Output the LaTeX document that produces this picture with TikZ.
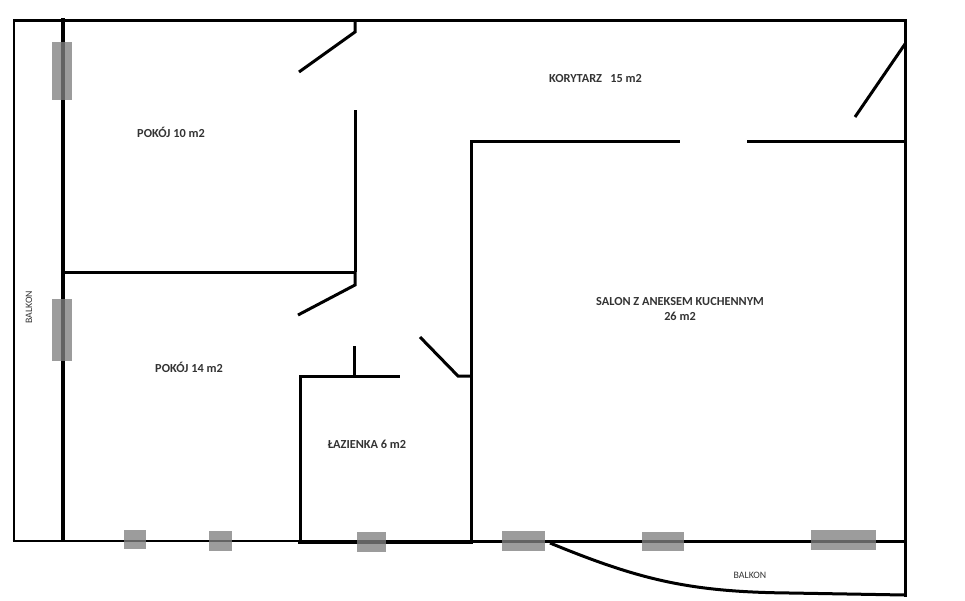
\documentclass[tikz,border=0pt]{standalone}
\usepackage{fontspec}
\setmainfont{Carlito}
\usepackage{xcolor}
\definecolor{labelgray}{HTML}{333333}
\definecolor{windowgray}{HTML}{808080}
\begin{document}
\begin{tikzpicture}[
    x=0.02cm, y=-0.02cm,
    wall/.style={draw=black, line width=0.06cm, line join=miter},
    thinwall/.style={draw=black, line width=0.05cm},
    thickwall/.style={draw=black, line width=0.085cm},
    window/.style={fill=windowgray, fill opacity=0.78, draw=none},
    room/.style={font=\fontsize{7pt}{8.9pt}\selectfont\bfseries, text=labelgray, align=center, inner sep=0pt},
    balcony/.style={font=\fontsize{5.6pt}{6.6pt}\selectfont, text=labelgray, inner sep=0pt},
]
\useasboundingbox (0,0) rectangle (965,600);

\draw[wall] (63,20) -- (14,20) -- (14,542);
\draw[thinwall] (12.5,541) -- (300,541);
\draw[wall] (471,541) -- (905,541);
\draw[wall] (63,20) -- (905,20) -- (905,597);
\draw[thickwall] (63,18) -- (63,541);
\draw[wall] (63,272) -- (355,272);
\draw[wall] (355,110) -- (355,272);
\draw[wall] (355,20) -- (355,32) -- (299,72);
\draw[wall] (355,272) -- (355,285) -- (298,315);
\draw[wall] (354,346) -- (354,377);
\draw[wall] (300,541) -- (300,376) -- (400,376);
\draw[wall] (420,337) -- (458,376) -- (471,376);
\draw[wall] (471,541) -- (471,141) -- (680,141);
\draw[wall] (747,141) -- (905,141);
\draw[wall] (905,44) -- (855,117);
\draw[thickwall] (298,542) -- (473,542);
\draw[wall] (550,543) .. controls (640,580) and (690,592) .. (790,593) -- (905,595);

\fill[window] (52,42) rectangle (72,100);
\fill[window] (52,299) rectangle (72,361);
\fill[window] (124,530) rectangle (146,549);
\fill[window] (209,531) rectangle (232,551);
\fill[window] (357,532) rectangle (386,552);
\fill[window] (502,531) rectangle (545,551);
\fill[window] (642,532) rectangle (684,551);
\fill[window] (811,530) rectangle (876,550);

\node[room] (pokoj10) at (171,132.5) {POKÓJ 10 m2};
\node[room] (pokoj14) at (189,367.5) {POKÓJ 14 m2};
\node[room] (lazienka) at (367,444.5) {ŁAZIENKA 6 m2};
\node[room] (korytarz) at (595.5,78) {KORYTARZ\ \ \ 15 m2};
\node[room] (salon) at (680,309) {SALON Z ANEKSEM KUCHENNYM\\26 m2};
\node[balcony, rotate=90] (balkon1) at (29,307) {BALKON};
\node[balcony] (balkon2) at (750,575) {BALKON};
\end{tikzpicture}
\end{document}
